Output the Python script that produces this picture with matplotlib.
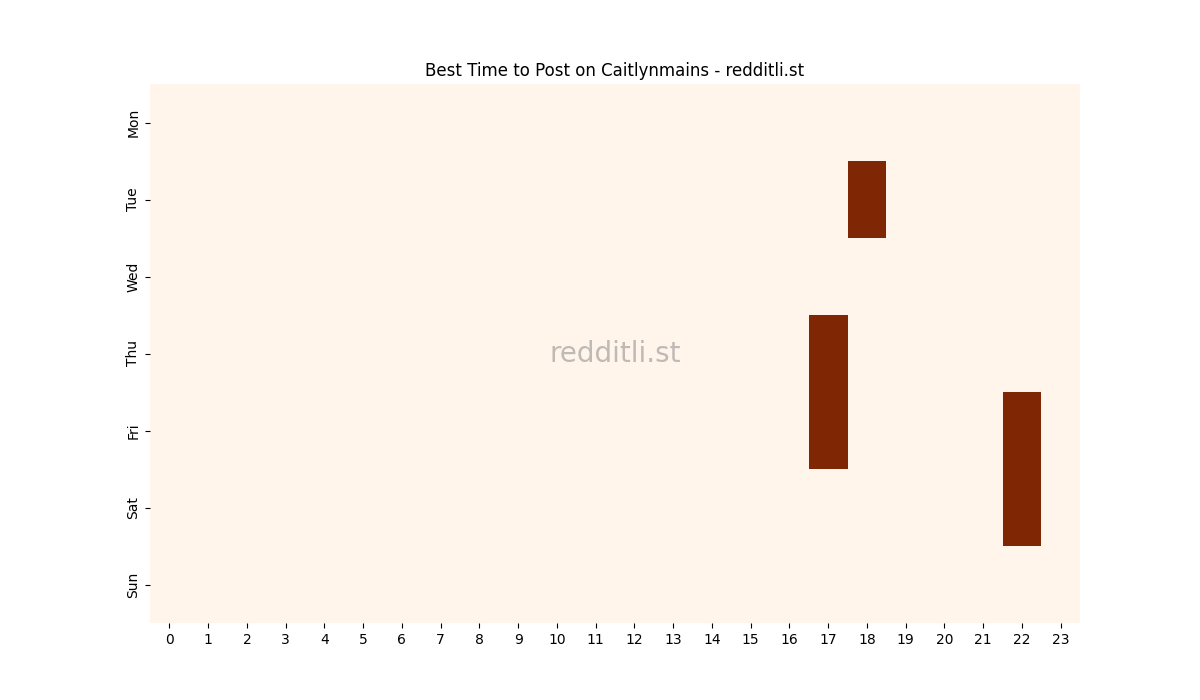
import numpy as np
import pandas as pd
import matplotlib
matplotlib.use("Agg")
import matplotlib.pyplot as plt
import seaborn as sns

# days and hours of the heatmap
days = ["Mon", "Tue", "Wed", "Thu", "Fri", "Sat", "Sun"]
hours = list(range(24))

# posts that did well: (day, hour)
hot_cells = [("Tue", 18), ("Thu", 17), ("Fri", 17), ("Fri", 22), ("Sat", 22)]
hot_value = 1

grid = pd.DataFrame(0, index=days, columns=hours)
for d, h in hot_cells:
    grid.loc[d, h] = hot_value

fig, ax = plt.subplots(figsize=(12, 7), dpi=100)
sns.heatmap(grid, cmap="Oranges", cbar=False, ax=ax)
ax.set_title("Best Time to Post on Caitlynmains - redditli.st")
ax.set_xlabel("")
ax.set_ylabel("")
ax.tick_params(axis="x", rotation=0)
ax.tick_params(axis="y", rotation=90)
ax.text(0.5, 0.5, "redditli.st", transform=ax.transAxes, fontsize=20,
        color="grey", alpha=0.5, ha="center", va="center")

fig.savefig("out.png", dpi=100)
